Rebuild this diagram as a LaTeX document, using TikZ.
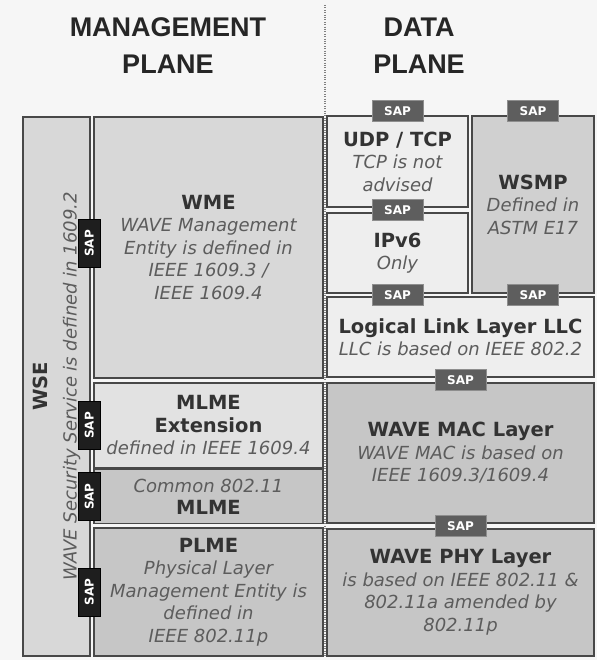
\documentclass[tikz,border=0pt]{standalone}
\usepackage{fontspec}
\setmainfont{DejaVu Sans}
\newfontfamily\headfont{Liberation Sans}
\usepackage{xcolor}
\usepackage{tikz}
\usetikzlibrary{positioning,calc}

\definecolor{bgcol}{HTML}{F6F6F6}
\definecolor{boxline}{HTML}{484848}
\definecolor{fillA}{HTML}{EEEEEE}
\definecolor{fillB}{HTML}{E2E2E2}
\definecolor{fillC}{HTML}{D8D8D8}
\definecolor{fillD}{HTML}{D0D0D0}
\definecolor{fillE}{HTML}{C6C6C6}
\definecolor{titlecol}{HTML}{333333}
\definecolor{notecol}{HTML}{5C5C5C}
\definecolor{sapgray}{HTML}{5E5E5E}
\definecolor{sapblack}{HTML}{1E1E1E}

\newcommand{\ttl}[1]{{\fontsize{19.5}{22.5}\selectfont\bfseries #1}}
\newcommand{\dsc}[1]{{\color{notecol}\itshape #1}}

\begin{document}
\begin{tikzpicture}[
  x=1pt, y=-1pt,
  font=\fontsize{18}{22.5}\selectfont,
  blk/.style={draw=boxline, line width=1.6pt, inner sep=0pt, align=center,
              text=titlecol},
  head/.style={font=\headfont\fontsize{27}{37}\selectfont\bfseries,
               text=black!85, align=center},
  sap/.style={fill=sapgray, draw=sapgray!70!white, line width=0.8pt,
              text=white, inner sep=0pt, minimum width=51, minimum height=21,
              font=\fontsize{12}{12}\selectfont\bfseries},
  sapv/.style={sap, fill=sapblack, draw=black, rotate=90,
               minimum width=48, minimum height=22},
  divider/.style={draw=gray, line width=1.2pt, dash pattern=on 1pt off 1.4pt},
]
\fill[bgcol] (0,0) rectangle (597,660);
\useasboundingbox (0,0) rectangle (597,660);

% plane headings
\node[head] (mgmt) at (168,45.5) {MANAGEMENT\\PLANE};
\node[head] (data) at (419,45.5) {DATA\\PLANE};
\coordinate (divtop) at (325,5);
\coordinate (divbot) at (325,656);
\draw[divider] (divtop) -- (divbot);

% management plane
\node[blk, fill=fillC, rotate=90, minimum width=539, minimum height=67] (wse)
  at (56.5,386.5) {\ttl{WSE}\\[7pt] \dsc{WAVE Security Service is defined in 1609.2}};
\node[blk, fill=fillC, minimum width=229, minimum height=261] (wme) at (208.5,247.5)
  {\ttl{WME}\\ \dsc{WAVE Management}\\ \dsc{Entity is defined in}\\
   \dsc{IEEE 1609.3 /}\\ \dsc{IEEE 1609.4}};
\node[blk, fill=fillB, minimum width=229, minimum height=85] (mlmex) at (208.5,425.5)
  {\ttl{MLME}\\ \ttl{Extension}\\ \dsc{defined in IEEE 1609.4}};
\node[blk, fill=fillE, minimum width=229, minimum height=54, below=0pt of mlmex] (mlme)
  {\dsc{Common 802.11}\\ \ttl{MLME}};
\node[blk, fill=fillE, minimum width=229, minimum height=128] (plme) at (208.5,592)
  {\ttl{PLME}\\ \dsc{Physical Layer}\\ \dsc{Management Entity is}\\
   \dsc{defined in}\\ \dsc{IEEE 802.11p}};

% data plane
\node[blk, fill=fillA, minimum width=141, minimum height=91] (udp) at (397.5,161.5)
  {\ttl{UDP / TCP}\\ \dsc{TCP is not}\\ \dsc{advised}};
\node[blk, fill=fillA, minimum width=141, minimum height=80] (ipv6) at (397.5,253)
  {\ttl{IPv6}\\ \dsc{Only}};
\node[blk, fill=fillD, minimum width=122, minimum height=177] (wsmp) at (533,204.5)
  {\ttl{WSMP}\\ \dsc{Defined in}\\ \dsc{ASTM E17}};
\node[blk, fill=fillA, minimum width=267, minimum height=80] (llc) at (460.5,337)
  {\ttl{Logical Link Layer LLC}\\ \dsc{LLC is based on IEEE 802.2}};
\node[blk, fill=fillE, minimum width=267, minimum height=140] (mac) at (460.5,453)
  {\ttl{WAVE MAC Layer}\\ \dsc{WAVE MAC is based on}\\ \dsc{IEEE 1609.3/1609.4}};
\node[blk, fill=fillE, minimum width=267, minimum height=127] (phy) at (460.5,592.5)
  {\ttl{WAVE PHY Layer}\\ \dsc{is based on IEEE 802.11 \&}\\
   \dsc{802.11a amended by}\\ \dsc{802.11p}};

% service access points
\node[sap] (sapudp) at ([yshift=4pt]udp.north) {SAP};
\node[sap] (sapwsmp) at ([yshift=4pt]wsmp.north) {SAP};
\node[sap] (sapip) at ($(udp.south)!0.5!(ipv6.north)$) {SAP};
\node[sap] (sapllc1) at ($(ipv6.south)!0.5!(llc.north -| ipv6.south)$) {SAP};
\node[sap] (sapllc2) at ($(wsmp.south)!0.5!(llc.north -| wsmp.south)$) {SAP};
\node[sap] (sapmac) at ($(llc.south)!0.5!(mac.north)$) {SAP};
\node[sap] (sapphy) at ($(mac.south)!0.5!(phy.north)$) {SAP};
\node[sapv] (sapwme) at ([xshift=-4pt,yshift=4pt]wme.west) {SAP};
\node[sapv] (sapmlx) at ([xshift=-4pt]mlmex.west) {SAP};
\node[sapv] (sapmlme) at ([xshift=-4pt]mlme.west) {SAP};
\node[sapv] (sapplme) at ([xshift=-4pt]plme.west) {SAP};
\end{tikzpicture}
\end{document}
